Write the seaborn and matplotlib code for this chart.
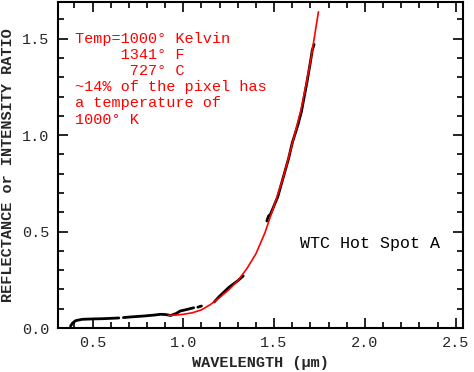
import numpy as np
import pandas as pd
import matplotlib
matplotlib.use("Agg")
import matplotlib.pyplot as plt
import seaborn as sns
from matplotlib.ticker import MultipleLocator

# Measured spectrum (black), segments separated by gaps
spec_wl = [0.379, 0.39, 0.407, 0.443, 0.50, 0.55, 0.60, 0.645,
           0.67, 0.72, 0.78, 0.84, 0.874, 0.90, 0.93, 0.96, 0.983, 1.02, 1.057,
           1.08, 1.10,
           1.17, 1.20, 1.25, 1.30, 1.33,
           1.46, 1.469, 1.48, 1.52, 1.55, 1.58, 1.60, 1.62, 1.63, 1.65, 1.68, 1.70, 1.71, 1.72]
spec_val = [0.010, 0.025, 0.038, 0.045, 0.047, 0.048, 0.050, 0.052,
            0.054, 0.058, 0.062, 0.067, 0.071, 0.070, 0.065, 0.075, 0.088, 0.096, 0.105,
            0.108, 0.114,
            0.135, 0.165, 0.210, 0.245, 0.270,
            0.555, 0.580, 0.590, 0.680, 0.780, 0.880, 0.960, 1.020, 1.050, 1.120, 1.270, 1.380, 1.440, 1.470]
spec_seg = [0]*8 + [1]*11 + [2]*2 + [3]*5 + [4]*14

# Blackbody fit (red)
fit_wl = [0.92, 0.96, 1.00, 1.05, 1.10, 1.15, 1.20, 1.25, 1.30, 1.35, 1.40, 1.45,
          1.50, 1.55, 1.60, 1.65, 1.70, 1.744]
fit_val = [0.066, 0.067, 0.071, 0.079, 0.094, 0.122, 0.158, 0.198, 0.245, 0.308, 0.385, 0.495,
           0.635, 0.780, 0.955, 1.140, 1.380, 1.639]

x_ticks = [0.5, 1.0, 1.5, 2.0, 2.5]
y_ticks = [0.0, 0.5, 1.0, 1.5]

annotation = ["Temp=1000° Kelvin",
              "     1341° F",
              "      727° C",
              "~14% of the pixel has",
              "a temperature of",
              "1000° K"]

sns.set_style("ticks")
plt.rcParams['font.family'] = ['Liberation Mono', 'DejaVu Sans Mono']

fig = plt.figure(figsize=(4.74, 3.72), dpi=100)
ax = fig.add_axes([58/474, 1-328/372, (463-58)/474, (328-2)/372])

spec_df = pd.DataFrame({"wl": spec_wl, "val": spec_val, "seg": spec_seg})
fit_df = pd.DataFrame({"wl": fit_wl, "val": fit_val})

sns.lineplot(data=spec_df, x="wl", y="val", units="seg", estimator=None, sort=False,
             color="black", linewidth=2.0, ax=ax)
sns.lineplot(data=fit_df, x="wl", y="val", color="red", linewidth=1.2, ax=ax)

ax.set_xlim(0.31, 2.54)
ax.set_ylim(0.0, 1.69)
ax.set_xticks(x_ticks)
ax.set_yticks(y_ticks)
ax.set_xticklabels([f"{v:.1f}" for v in x_ticks])
ax.set_yticklabels([f"{v:.1f}" for v in y_ticks])
ax.xaxis.set_minor_locator(MultipleLocator(0.1))
ax.yaxis.set_minor_locator(MultipleLocator(0.1))
ax.tick_params(which="both", direction="in", top=True, right=True, color="black", width=1.2)
ax.tick_params(which="major", length=7, labelsize=11, pad=6)
ax.tick_params(which="minor", length=4)
for s in ax.spines.values():
    s.set_linewidth(1.5)
    s.set_color("black")

ax.set_xlabel("WAVELENGTH (μm)", fontsize=11, fontweight="bold", labelpad=4)
ax.set_ylabel("REFLECTANCE or INTENSITY RATIO", fontsize=11, fontweight="bold", labelpad=5)

for i, line in enumerate(annotation):
    ax.text(0.405, 1.50 - i*0.084, line, color="red", fontsize=11, va="center", ha="left")
ax.text(1.64, 0.44, "WTC Hot Spot A", color="black", fontsize=12, va="center", ha="left")

fig.savefig("out.png", dpi=100)
